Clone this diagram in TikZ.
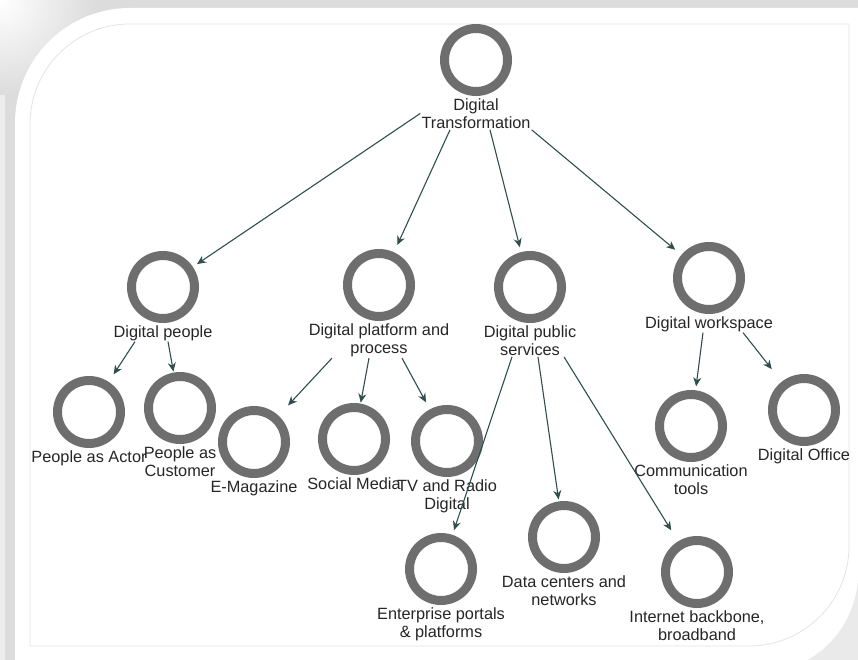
\documentclass[tikz,border=0pt]{standalone}
\usepackage{fontspec}
\setmainfont{Liberation Sans}
\usepackage{tikz}
\usetikzlibrary{positioning}
\usetikzlibrary{arrows.meta}
\definecolor{ringgray}{HTML}{6E6E6E}
\definecolor{edgeslate}{HTML}{2F4F4F}
\definecolor{bandgray}{HTML}{DCDCDC}
\definecolor{linegray}{HTML}{E4E4E4}
\tikzset{>={Stealth[length=9pt,width=8pt]}}
\tikzstyle{ring}=[circle,draw=ringgray,line width=9pt,minimum size=63pt,inner sep=0pt]
\tikzstyle{txt}=[align=center,inner sep=1pt,text=black!85,font=\fontsize{16.3}{18.5}\selectfont]
\tikzstyle{link}=[->,color=edgeslate,line width=1.1pt]

\begin{document}
\begin{tikzpicture}[x=1pt,y=-1pt]
    \clip (0,0) rectangle (858,660);
    % card and its shadow
    \fill[bandgray] (0,0) rectangle (858,660);
    \fill[bandgray!50] (0,0) rectangle (5,660);
    \shade[inner color=white,outer color=bandgray] (0,0) circle[radius=95];
    \fill[bandgray!60] (700,520) rectangle (858,660);
    \fill[white] (15,660) -- (15,123) arc[start angle=180,end angle=270,radius=115]
      -- (858,8) -- (858,573) arc[start angle=0,end angle=90,radius=100] -- (15,673) -- cycle;
    \draw[linegray,line width=0.8pt] (30,646) -- (30,124) arc[start angle=180,end angle=270,radius=100]
      -- (849,24) -- (849,546) arc[start angle=0,end angle=90,radius=100] -- cycle;

    % rings
    \node[ring] (trans) at (476,60) {};
    \node[ring] (people) at (163,287) {};
    \node[ring] (platform) at (379,285) {};
    \node[ring] (public) at (530,287) {};
    \node[ring] (workspace) at (709,278) {};
    \node[ring] (actor) at (89,412) {};
    \node[ring] (customer) at (180,408) {};
    \node[ring] (magazine) at (254,442) {};
    \node[ring] (social) at (354,439) {};
    \node[ring] (radio) at (447,441) {};
    \node[ring] (commTools) at (691,426) {};
    \node[ring] (office) at (804,410) {};
    \node[ring] (portals) at (441,569) {};
    \node[ring] (dataCenters) at (564,537) {};
    \node[ring] (backbone) at (697,572) {};

    % labels under the rings
    \node[txt,below=1pt of trans] (transTxt) {Digital\\Transformation};
    \node[txt,below=1pt of people] (peopleTxt) {Digital people};
    \node[txt,below=1pt of platform] (platformTxt) {Digital platform and\\process};
    \node[txt,below=1pt of public] (publicTxt) {Digital public\\services};
    \node[txt,below=1pt of workspace] (workspaceTxt) {Digital workspace};
    \node[txt,below=1pt of actor] (actorTxt) {People as Actor};
    \node[txt,below=1pt of customer] (customerTxt) {People as\\Customer};
    \node[txt,below=1pt of magazine] (magazineTxt) {E-Magazine};
    \node[txt,below=1pt of social] (socialTxt) {Social Media};
    \node[txt,below=1pt of radio] (radioTxt) {TV and Radio\\Digital};
    \node[txt,below=1pt of commTools] (commToolsTxt) {Communication\\tools};
    \node[txt,below=1pt of office] (officeTxt) {Digital Office};
    \node[txt,below=1pt of portals] (portalsTxt) {Enterprise portals\\\& platforms};
    \node[txt,below=1pt of dataCenters] (dataCentersTxt) {Data centers and\\networks};
    \node[txt,below=1pt of backbone] (backboneTxt) {Internet backbone,\\broadband};

    % links
    \draw[link,shorten >=5pt] (transTxt.west) -- (people);
    \draw[link,shorten >=8pt] ([xshift=-26pt]transTxt.south) -- (platform);
    \draw[link,shorten >=5pt] ([xshift=14pt]transTxt.south) -- (public);
    \draw[link,shorten >=8pt] (transTxt.south east) -- (workspace);

    \draw[link,shorten >=9pt] ([xshift=-28pt]peopleTxt.south) -- (actor);
    \draw[link,shorten >=1pt] ([xshift=5pt]peopleTxt.south) -- (customer);

    \draw[link,shorten >=14pt] ([xshift=-47pt]platformTxt.south) -- (magazine);
    \draw[link,shorten >=1pt] ([xshift=-10pt]platformTxt.south) -- (social);
    \draw[link,shorten >=8pt] ([xshift=23pt]platformTxt.south) -- (radio);

    \draw[link,shorten >=5pt] ([xshift=-18pt]publicTxt.south) -- (portals);
    \draw[link,shorten >=2pt] ([xshift=8pt]publicTxt.south) -- (dataCenters);
    \draw[link,shorten >=13pt] ([xshift=34pt]publicTxt.south) -- (backbone);

    \draw[link,shorten >=4pt] ([xshift=-6pt]workspaceTxt.south) -- (commTools);
    \draw[link,shorten >=16pt] ([xshift=34pt]workspaceTxt.south) -- (office);
\end{tikzpicture}
\end{document}
